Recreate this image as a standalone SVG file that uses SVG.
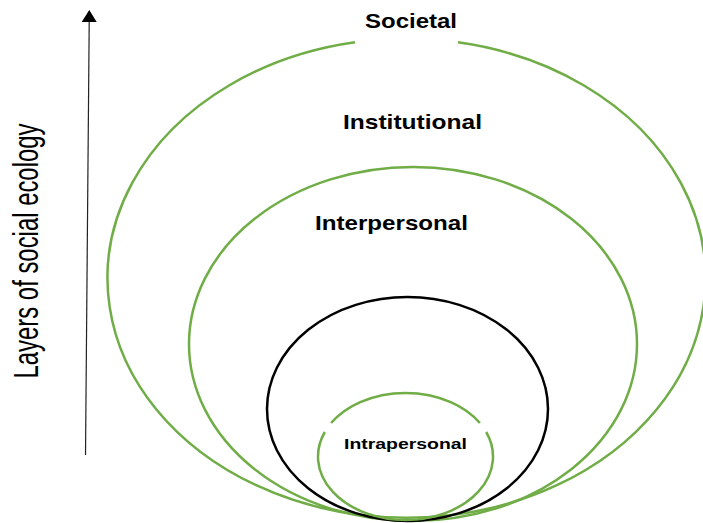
<svg xmlns="http://www.w3.org/2000/svg" width="703" height="523" viewBox="0 0 703 523">
  <defs>
    <style>
      .ring { fill: none; stroke: #70ad47; stroke-width: 2.5; }
      .core { fill: none; stroke: #000000; stroke-width: 2.5; }
      .lbl { font-family: "Liberation Sans", Arial, sans-serif; font-weight: bold; fill: #000000; text-anchor: middle; }
      .axis-lbl { font-family: "Liberation Sans", Arial, sans-serif; fill: #000000; text-anchor: middle; }
    </style>
    <marker id="arrowhead" markerWidth="12" markerHeight="15" refX="11" refY="7.5" orient="auto" markerUnits="userSpaceOnUse" viewBox="0 0 12 15">
      <path d="M0,0 L12,7.5 L0,15 Z" fill="#000000"/>
    </marker>
  </defs>
  <rect width="703" height="523" fill="#ffffff"/>

  <!-- axis -->
  <g id="axis">
    <line x1="85.5" y1="455" x2="89.3" y2="11" stroke="#222222" stroke-width="1.2" marker-end="url(#arrowhead)"/>
    <text class="axis-lbl" transform="translate(38,251) rotate(-90)" font-size="35" textLength="255" lengthAdjust="spacingAndGlyphs">Layers of social ecology</text>
  </g>

  <!-- societal layer: open at the top where its label sits -->
  <g id="societal">
    <path class="ring" d="M 355 42.3 A 299 239.5 0 1 0 458 42.3"/>
    <text class="lbl" x="411" y="28" font-size="20.5" textLength="92" lengthAdjust="spacingAndGlyphs">Societal</text>
  </g>

  <g id="institutional">
    <text class="lbl" x="412.5" y="129" font-size="20.5" textLength="139" lengthAdjust="spacingAndGlyphs">Institutional</text>
  </g>

  <g id="interpersonal">
    <ellipse class="ring" cx="413" cy="344" rx="224" ry="177"/>
    <text class="lbl" x="391.5" y="230" font-size="20.5" textLength="153" lengthAdjust="spacingAndGlyphs">Interpersonal</text>
  </g>

  <g id="core">
    <ellipse class="core" cx="407.5" cy="409" rx="140.5" ry="112"/>
  </g>

  <g id="intrapersonal">
    <path class="ring" d="M 331.1 423 A 87.5 63.5 0 0 1 479.9 423 M 486.2 432 A 87.5 63.5 0 1 1 324.8 432"/>
    <text class="lbl" x="405.5" y="449" font-size="15.5" textLength="123" lengthAdjust="spacingAndGlyphs">Intrapersonal</text>
  </g>
</svg>
